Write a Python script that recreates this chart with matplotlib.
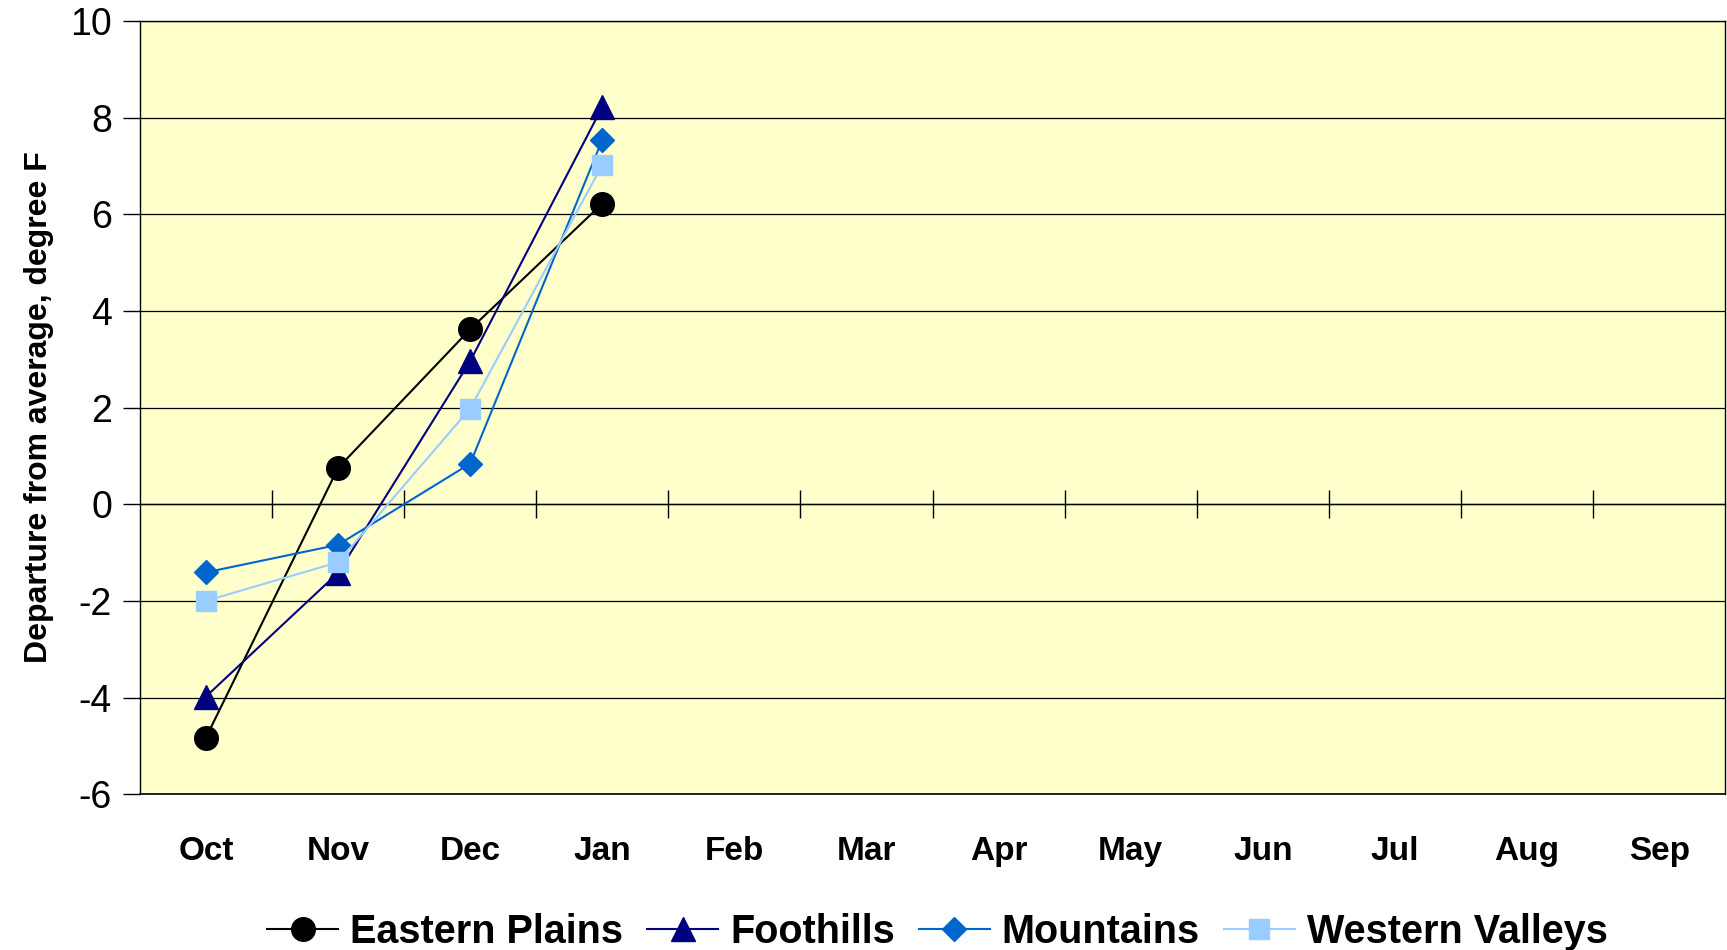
import numpy as np
import matplotlib.pyplot as plt

# month categories and departure values (degree F)
months = ['Oct', 'Nov', 'Dec', 'Jan', 'Feb', 'Mar', 'Apr', 'May', 'Jun', 'Jul', 'Aug', 'Sep']
eastern_plains = [-4.83, 0.75, 3.62, 6.22]
foothills = [-3.98, -1.42, 2.96, 8.22]
mountains = [-1.41, -0.84, 0.84, 7.54]
western_valleys = [-2.0, -1.2, 1.98, 7.02]
yticks = [-6, -4, -2, 0, 2, 4, 6, 8, 10]

plt.rcParams['font.family'] = ['Liberation Sans', 'DejaVu Sans']

fig = plt.figure(figsize=(17.27, 9.5), dpi=100)
ax = fig.add_axes([0.081, 0.164, 0.918, 0.814])
ax.set_facecolor('#FFFFCC')

x = np.arange(len(eastern_plains))
ax.plot(x, eastern_plains, color='black', lw=1.5, marker='o', ms=17, label='Eastern Plains', zorder=3)
ax.plot(x, foothills, color='#000080', lw=1.5, marker='^', ms=17, label='Foothills', zorder=3)
ax.plot(x, mountains, color='#0066CC', lw=1.5, marker='D', ms=12, label='Mountains', zorder=3)
ax.plot(x, western_valleys, color='#99CCFF', lw=1.5, marker='s', ms=15, label='Western Valleys', zorder=3)

ax.set_xlim(-0.5, len(months) - 0.5)
ax.set_ylim(-6, 10)
ax.set_yticks(yticks)
ax.set_yticklabels([str(v) for v in yticks], fontsize=27)
ax.tick_params(axis='y', direction='out', length=12, width=1, pad=8)
ax.grid(axis='y', color='black', lw=0.9)
ax.set_axisbelow(True)

# category axis crosses at zero, tick marks between categories
ax.spines['bottom'].set_position(('data', 0))
ax.spines['bottom'].set_linewidth(1)
ax.set_xticks(np.arange(0.5, len(months) - 1, 1.0))
ax.tick_params(axis='x', direction='inout', length=20, width=1, labelbottom=False)
for s in ['left', 'right', 'top']:
    ax.spines[s].set_linewidth(1)

sec = ax.secondary_xaxis('bottom')
sec.set_xticks(np.arange(len(months)))
sec.set_xticklabels(months, fontsize=24, fontweight='bold')
sec.tick_params(length=0, pad=30)
sec.spines['bottom'].set_linewidth(1.2)

ax.set_ylabel('Departure from average, degree F', fontsize=23, fontweight='bold', labelpad=12)

ax.legend(loc='center', bbox_to_anchor=(0.503, -0.178), ncol=4, frameon=False,
          prop={'weight': 'bold', 'size': 28.5},
          handlelength=1.8, handletextpad=0.3, columnspacing=0.6)

fig.savefig('out.png', dpi=100, facecolor='white')
